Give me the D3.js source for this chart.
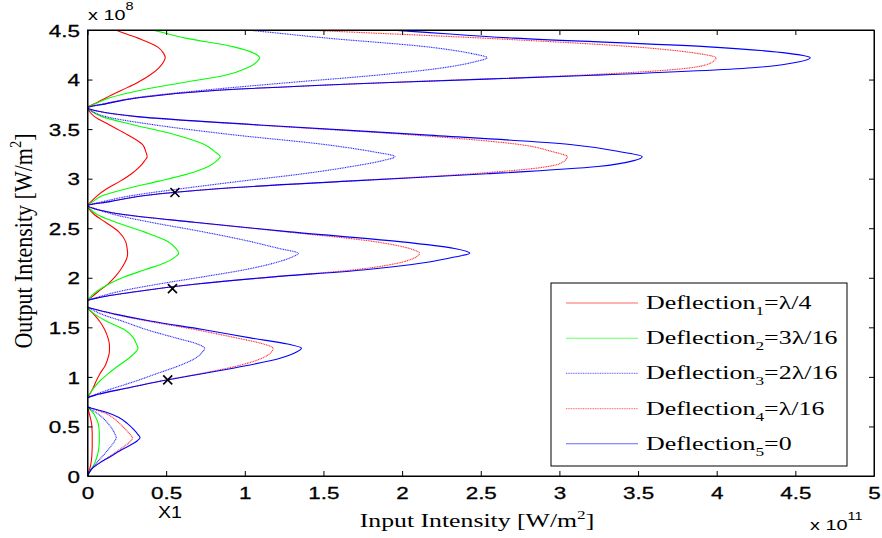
<!DOCTYPE html>
<html>
<head>
<meta charset="utf-8">
<script src="https://d3js.org/d3.v7.min.js"></script>
<style>
  body { margin: 0; background: #fff; }
  svg { display: block; }
</style>
</head>
<body>
<svg id="chart" width="882" height="538"></svg>
<script>
// output intensity samples (x 10^8 W/m^2), shared by every curve
var outputY = [
  0, 0.031, 0.077, 0.135, 0.194, 0.252, 0.310, 0.356, 0.387, 0.418, 0.465, 0.528, 0.590, 0.644, 0.678, 0.70,
  0.784, 0.824, 0.885, 0.961, 1.037, 1.112, 1.188, 1.249, 1.289, 1.331, 1.394, 1.478, 1.561, 1.633, 1.679, 1.708,
  1.766, 1.804, 1.862, 1.934, 2.007, 2.079, 2.151, 2.209, 2.247, 2.295, 2.367, 2.463, 2.560, 2.641, 2.694, 2.728,
  2.768, 2.827, 2.901, 2.975, 3.049, 3.123, 3.182, 3.222, 3.271, 3.345, 3.444, 3.542, 3.626, 3.680, 3.715,
  3.755, 3.816, 3.892, 3.968, 4.043, 4.119, 4.180, 4.220, 4.264, 4.330, 4.418, 4.506, 4.581, 4.629, 4.660
];

// input intensity (x 10^11 W/m^2) for each deflection
var deflection1 = [
  0, 0.006, 0.015, 0.023, 0.027, 0.029, 0.03, 0.03, 0.03, 0.03, 0.029, 0.026, 0.018, 0.009, 0.003, 0,
  0, 0.014, 0.035, 0.056, 0.081, 0.112, 0.130, 0.139, 0.14, 0.139, 0.130, 0.109, 0.077, 0.039, 0.011, 0,
  0, 0.026, 0.069, 0.128, 0.173, 0.209, 0.237, 0.252, 0.255, 0.252, 0.242, 0.199, 0.115, 0.041, 0.010, 0,
  0.023, 0.061, 0.125, 0.208, 0.280, 0.334, 0.364, 0.379, 0.371, 0.349, 0.254, 0.140, 0.045, 0.011, 0,
  0.044, 0.119, 0.217, 0.316, 0.395, 0.454, 0.484, 0.494, 0.484, 0.445, 0.321, 0.168, 0.059, 0.017, 0
];
var deflection2 = [
  0, 0.011, 0.029, 0.047, 0.060, 0.069, 0.074, 0.075, 0.075, 0.075, 0.074, 0.068, 0.053, 0.032, 0.011, 0,
  0, 0.013, 0.039, 0.080, 0.135, 0.196, 0.263, 0.305, 0.321, 0.311, 0.292, 0.234, 0.122, 0.045, 0.013, 0,
  0, 0.017, 0.058, 0.133, 0.232, 0.360, 0.493, 0.557, 0.58, 0.563, 0.510, 0.360, 0.180, 0.058, 0.017, 0,
  0.034, 0.093, 0.253, 0.456, 0.641, 0.768, 0.823, 0.844, 0.810, 0.743, 0.557, 0.295, 0.093, 0.025, 0,
  0.049, 0.142, 0.339, 0.602, 0.875, 1.017, 1.078, 1.094, 1.061, 0.930, 0.624, 0.394, 0.153, 0.044, 0
];
var deflection3 = [
  0, 0.009, 0.027, 0.059, 0.092, 0.124, 0.154, 0.174, 0.183, 0.176, 0.161, 0.132, 0.095, 0.051, 0.016, 0,
  0, 0.052, 0.164, 0.313, 0.447, 0.581, 0.685, 0.730, 0.745, 0.700, 0.559, 0.373, 0.224, 0.089, 0.030, 0,
  0, 0.067, 0.201, 0.442, 0.724, 0.992, 1.193, 1.300, 1.34, 1.219, 1.032, 0.737, 0.402, 0.161, 0.054, 0,
  0.098, 0.274, 0.606, 0.977, 1.368, 1.680, 1.876, 1.954, 1.817, 1.505, 0.918, 0.430, 0.117, 0.029, 0,
  0.102, 0.305, 0.737, 1.27, 1.829, 2.261, 2.464, 2.54, 2.438, 2.159, 1.524, 0.965, 0.356, 0.102, 0
];
var deflection4 = [
  0, 0.010, 0.031, 0.080, 0.137, 0.191, 0.242, 0.276, 0.285, 0.271, 0.245, 0.205, 0.160, 0.097, 0.031, 0,
  0, 0.068, 0.248, 0.472, 0.732, 0.956, 1.109, 1.168, 1.18, 1.121, 0.944, 0.684, 0.389, 0.165, 0.053, 0,
  0, 0.084, 0.317, 0.675, 1.161, 1.688, 1.983, 2.089, 2.11, 2.047, 1.815, 1.266, 0.675, 0.211, 0.053, 0,
  0.140, 0.351, 0.854, 1.647, 2.44, 2.928, 3.035, 3.05, 2.959, 2.745, 2.044, 1.068, 0.305, 0.067, 0,
  0.116, 0.320, 0.839, 1.878, 3.117, 3.836, 3.976, 3.996, 3.876, 3.477, 2.517, 1.319, 0.480, 0.140, 0
];
var deflection5 = [
  0, 0.010, 0.030, 0.080, 0.144, 0.204, 0.271, 0.317, 0.334, 0.321, 0.296, 0.254, 0.200, 0.120, 0.040, 0,
  0, 0.068, 0.245, 0.476, 0.748, 1.006, 1.224, 1.326, 1.36, 1.272, 1.034, 0.734, 0.408, 0.177, 0.054, 0,
  0, 0.085, 0.316, 0.680, 1.166, 1.750, 2.138, 2.333, 2.43, 2.333, 1.968, 1.288, 0.680, 0.219, 0.049, 0,
  0.141, 0.353, 0.846, 1.657, 2.539, 3.244, 3.473, 3.526, 3.385, 3.068, 2.116, 1.093, 0.317, 0.071, 0,
  0.115, 0.322, 0.827, 1.884, 3.217, 4.227, 4.526, 4.595, 4.457, 3.952, 2.711, 1.838, 0.689, 0.184, 0
];

var xTicks = [0, 0.5, 1, 1.5, 2, 2.5, 3, 3.5, 4, 4.5, 5];
var yTicks = [0, 0.5, 1, 1.5, 2, 2.5, 3, 3.5, 4, 4.5];

// the three "x" marks
var markX = [0.51, 0.54, 0.556];
var markY = [0.97, 1.89, 2.86];

var legendSub = ["1", "2", "3", "4", "5"];
var legendTail = ["=\u03bb/4", "=3\u03bb/16", "=2\u03bb/16", "=\u03bb/16", "=0"];

var series = [
  { vals: deflection1, color: "#ff0000", dash: null },
  { vals: deflection2, color: "#00ff00", dash: null },
  { vals: deflection3, color: "#2222ff", dash: "1,0.7" },
  { vals: deflection4, color: "#ff2222", dash: "1,0.7" },
  { vals: deflection5, color: "#0000ff", dash: null }
];

var svg = d3.select("#chart"),
  margin = { top: 30, left: 87.5 },
  width = 874 - 87.5,
  height = 476 - 30,
  sx = 1.32; // the figure is stretched sideways, text too
var g = svg.append("g").attr("transform", "translate(" + margin.left + "," + margin.top + ")");

var x = d3.scaleLinear().domain([0, 5]).range([0, width]);
var y = d3.scaleLinear().domain([0, 4.5]).range([height, 0]);

g.append("clipPath").attr("id", "plotclip")
  .append("rect").attr("width", width).attr("height", height);

var line = d3.line()
  .x(function (d) { return x(d[0]); })
  .y(function (d) { return y(d[1]); })
  .curve(d3.curveMonotoneY);

var curves = g.append("g").attr("clip-path", "url(#plotclip)");
series.forEach(function (s) {
  var pts = s.vals.map(function (v, i) { return [v, outputY[i]]; });
  curves.append("path").datum(pts)
    .attr("d", line)
    .attr("fill", "none")
    .attr("stroke", s.color)
    .attr("stroke-width", 1.1)
    .attr("stroke-dasharray", s.dash);
});

// x marks
g.selectAll(".mark").data(markX).enter().append("path")
  .attr("class", "mark")
  .attr("d", function (d, i) {
    var cx = x(d), cy = y(markY[i]), r = 4.5;
    return "M" + (cx - r) + "," + (cy - r) + "L" + (cx + r) + "," + (cy + r) +
      "M" + (cx - r) + "," + (cy + r) + "L" + (cx + r) + "," + (cy - r);
  })
  .attr("stroke", "#000").attr("stroke-width", 1.6).attr("fill", "none");

// axes, ticks point inward like matlab
var fmt = function (d) { return String(d); };
var bottom = g.append("g").attr("transform", "translate(0," + height + ")")
  .call(d3.axisBottom(x).tickValues(xTicks).tickFormat(fmt).tickSizeInner(-5).tickSizeOuter(0).tickPadding(11));
var left = g.append("g")
  .call(d3.axisLeft(y).tickValues(yTicks).tickFormat(fmt).tickSizeInner(-5).tickSizeOuter(0).tickPadding(7.5 / sx));
g.append("g")
  .call(d3.axisTop(x).tickValues(xTicks).tickFormat("").tickSizeInner(-5).tickSizeOuter(0));
g.append("g").attr("transform", "translate(" + width + ",0)")
  .call(d3.axisRight(y).tickValues(yTicks).tickFormat("").tickSizeInner(-5).tickSizeOuter(0));

g.selectAll(".domain").attr("stroke", "#000");
g.selectAll(".tick line").attr("stroke", "#000");
[bottom, left].forEach(function (a) {
  a.attr("font-family", "Liberation Sans, Arial, sans-serif").attr("font-size", 17);
  a.selectAll("text").attr("fill", "#000")
    .attr("stroke", "#000").attr("stroke-width", 0.3)
    .attr("transform", "scale(" + sx + ",1)");
});
left.selectAll("text").attr("dy", "0.36em");

// scale factors
function sciLabel(px, py, exp) {
  var t = svg.append("text")
    .attr("transform", "translate(" + px + "," + py + ") scale(" + sx + ",1)")
    .attr("font-family", "Liberation Sans, Arial, sans-serif")
    .attr("font-size", 15).attr("fill", "#000");
  t.append("tspan").text("x 10");
  t.append("tspan").attr("font-size", 11).attr("dy", -10).text(exp);
}
sciLabel(88, 20, "8");
sciLabel(810, 530, "11");

svg.append("text")
  .attr("transform", "translate(170,518) scale(1.15,1)")
  .attr("text-anchor", "middle")
  .attr("font-family", "Liberation Sans, Arial, sans-serif")
  .attr("font-size", 17).attr("fill", "#000")
  .text("X1");

// axis titles
var xl = svg.append("text")
  .attr("transform", "translate(477,527) scale(" + sx + ",1)")
  .attr("text-anchor", "middle")
  .attr("font-family", "Liberation Serif, Times New Roman, serif")
  .attr("font-size", 19.5).attr("fill", "#000");
xl.append("tspan").text("Input Intensity [W/m");
xl.append("tspan").attr("font-size", 13).attr("dy", -8).text("2");
xl.append("tspan").attr("dy", 8).text("]");

var yl = svg.append("text")
  .attr("transform", "translate(31.5,241) rotate(-90) scale(1.13," + sx + ")")
  .attr("text-anchor", "middle")
  .attr("font-family", "Liberation Serif, Times New Roman, serif")
  .attr("font-size", 19.5).attr("fill", "#000");
yl.append("tspan").text("Output Intensity [W/m");
yl.append("tspan").attr("font-size", 13).attr("dy", -8).text("2");
yl.append("tspan").attr("dy", 8).text("]");

// legend
var lg = svg.append("g").attr("transform", "translate(551,283)");
lg.append("rect").attr("width", 296).attr("height", 183)
  .attr("fill", "#fff").attr("stroke", "#000").attr("stroke-width", 1);
var rows = lg.selectAll(".row").data(series).enter().append("g")
  .attr("class", "row")
  .attr("transform", function (d, i) { return "translate(0," + (20 + i * 35.2) + ")"; });
rows.append("line").attr("x1", 15).attr("x2", 87)
  .attr("stroke", function (d) { return d.color; })
  .attr("stroke-opacity", 0.6)
  .attr("stroke-width", 1.1)
  .attr("stroke-dasharray", function (d) { return d.dash; });
var lt = rows.append("text")
  .attr("transform", "translate(95,6) scale(1.33,1)")
  .attr("font-family", "Liberation Serif, Times New Roman, serif")
  .attr("font-size", 19.5).attr("fill", "#000");
lt.append("tspan").text("Deflection");
lt.append("tspan").attr("font-size", 13).attr("dy", 6).text(function (d, i) { return legendSub[i]; });
lt.append("tspan").attr("dy", -6).text(function (d, i) { return legendTail[i]; });

// plot box on top
g.append("rect").attr("width", width).attr("height", height)
  .attr("fill", "none").attr("stroke", "#000").attr("stroke-width", 1);
</script>
</body>
</html>
